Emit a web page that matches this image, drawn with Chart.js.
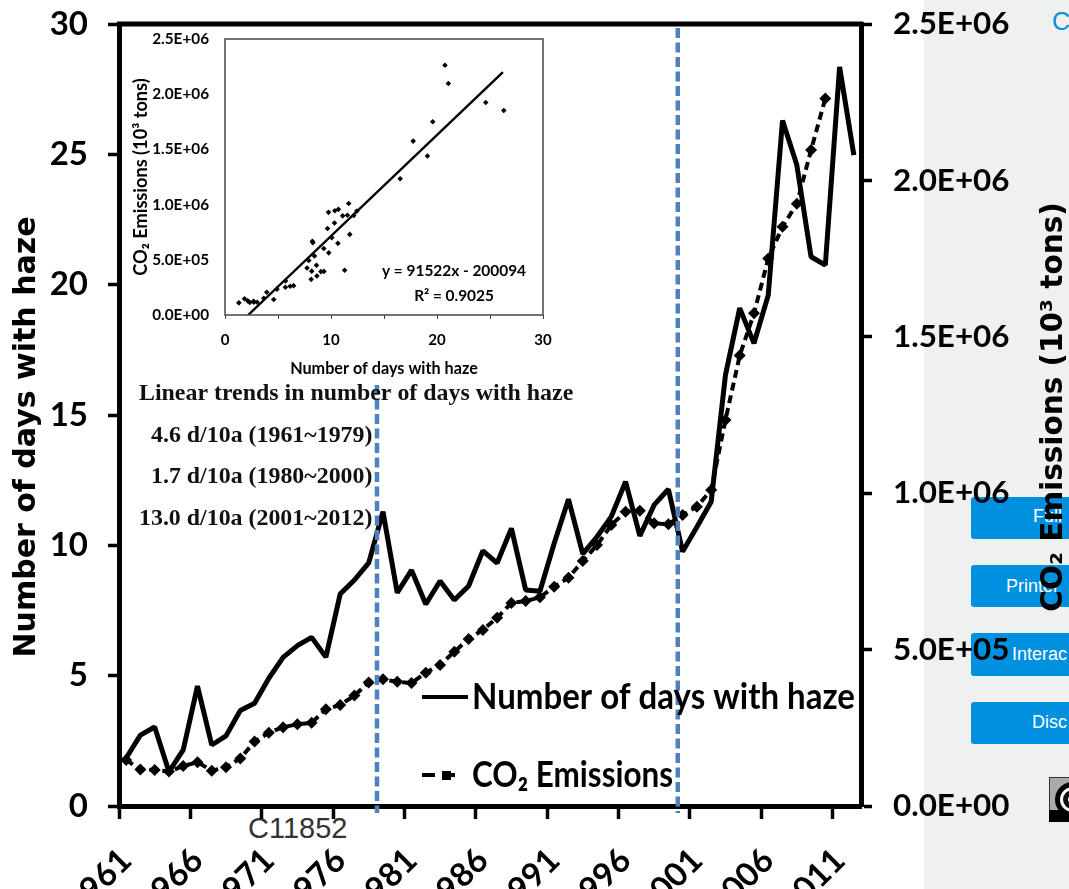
<!DOCTYPE html>
<html><head><meta charset="utf-8">
<script src="https://cdn.jsdelivr.net/npm/chart.js@4"></script>
<style>
html,body{margin:0;padding:0;background:#fff;width:1069px;height:889px;overflow:hidden;position:relative}
.abs{position:absolute}
#side{left:924px;top:0;width:145px;height:889px;background:#eff1f0}
.btn{left:971px;width:200px;background:#0090e0;border-radius:3px;}
.btnt{color:#fff;font:18px "Liberation Sans";white-space:nowrap;line-height:22px}
#c{left:1052px;top:4px;color:#0090e0;font:25px "Liberation Sans";line-height:34px}
#code{left:248px;top:811px;color:#333;font:29px "Liberation Sans";line-height:34px}
canvas{position:absolute;left:0;top:0}
#badge{left:1049px;top:777px;width:30px;height:45px;background:#a8aca6;border:1px solid #333;box-sizing:border-box}
#badgeb{left:1049px;top:810px;width:30px;height:12px;background:#000}
#ring{left:1055px;top:782px;width:35px;height:35px;border-radius:50%;border:5px solid #000;background:#fff;box-sizing:border-box}
#ring2{left:1063px;top:790px;width:19px;height:19px;border-radius:50%;border:5px solid #111;background:#fff;box-sizing:border-box}
</style></head>
<body>
<div id="side" class="abs"></div>
<div id="c" class="abs">C</div>
<div class="abs btn" style="top:497px;height:42px"></div>
<div class="abs btn" style="top:565px;height:42px"></div>
<div class="abs btn" style="top:633px;height:43px"></div>
<div class="abs btn" style="top:702px;height:42px"></div>
<div class="abs btnt" style="left:1033px;top:505px">Full</div>
<div class="abs btnt" style="left:1006px;top:575px">Printer</div>
<div class="abs btnt" style="left:1012px;top:643px">Interac</div>
<div class="abs btnt" style="left:1032px;top:711px">Disc</div>
<div id="badge" class="abs"></div><div id="badgeb" class="abs"></div><div id="ring" class="abs"></div><div id="ring2" class="abs"></div>
<div id="code" class="abs">C11852</div>
<canvas id="main" width="1069" height="889"></canvas>
<canvas id="inset" width="430" height="350" style="left:130px;top:28px"></canvas>
<script>
const years = Array.from({length:52},(_,i)=>String(1961+i));
const hazeDays = [1.84,2.72,3.03,1.31,2.15,4.6,2.34,2.69,3.66,3.94,4.9,5.7,6.15,6.47,5.71,8.13,8.67,9.33,11.29,8.18,9.05,7.74,8.63,7.9,8.44,9.79,9.32,10.65,8.29,8.24,10.08,11.77,9.67,10.33,11.1,12.44,10.36,11.55,12.15,9.76,10.7,11.67,16.53,19.1,17.75,19.6,26.3,24.6,21.07,20.75,28.35,24.97];
const co2Emissions = [147000,117000,115000,110000,128000,140000,113000,124000,152000,206000,234000,252000,261000,266000,309000,323000,353000,395000,405000,397000,393000,426000,451000,493000,534000,563000,602000,649000,655000,667000,701000,730000,783000,834000,898000,941000,944000,904000,901000,930000,957000,1010000,1234000,1440000,1575000,1750000,1852000,1925000,2097000,2262000,null,null];
const breakIndex = [17.58,38.66];
const breakTop = [16.15,29.85];
const breakBottom = -0.27;
const trendTitle = "Linear trends in number of days with haze";
const trendLines = ["4.6 d/10a (1961~1979)","1.7 d/10a (1980~2000)","13.0 d/10a (2001~2012)"];
const hazeLabel = "Number of days with haze";
const co2Label = "CO\u2082 Emissions";
const co2Axis = "CO\u2082 Emissions (10\u00B3 tons)";
const fitX = [2.186,26.22];
const fitY = [0,2200000];
const equation = "y = 91522x - 200094";
const rSquared = "R\u00B2 = 0.9025";

const LATO='Lato', AXISF='"DejaVu Sans"';
const sci = v => { const [m,e]=Number(v).toExponential(1).split('e'); return m+'E+'+e.replace('+','').padStart(2,'0'); };
const noPad = s => { s.paddingTop=0; s.paddingBottom=0; s.paddingLeft=0; s.paddingRight=0; };
const shiftTitle = (dx,dy,flip) => s => { const o=Object.getPrototypeOf(s).drawTitle;
  s.drawTitle=function(){ const c=s.ctx; c.save(); c.translate(dx,dy);
    if(flip){ const cx=s.right-s.options.title.font.size*0.6, cy=(s.top+s.bottom)/2; c.translate(cx,cy); c.rotate(Math.PI); c.translate(-cx,-cy); }
    o.call(s); c.restore(); }; };

const mainOverlay = { id:'mainOverlay', afterDatasetsDraw(ch){
  const {ctx,chartArea:a,scales:{x,y}}=ch;
  ctx.save();
  ctx.strokeStyle='#000'; ctx.lineWidth=5; ctx.beginPath(); ctx.moveTo(a.left-2,a.top); ctx.lineTo(a.right+2,a.top); ctx.stroke();
  ctx.strokeStyle='#4f81bd'; ctx.lineWidth=4.5; ctx.setLineDash([10,4.5]);
  breakIndex.forEach((b,i)=>{ const px=x.getPixelForValue(b); ctx.beginPath(); ctx.moveTo(px,y.getPixelForValue(breakTop[i])); ctx.lineTo(px,y.getPixelForValue(breakBottom)); ctx.stroke(); });
  ctx.setLineDash([]);
  ctx.fillStyle='#111'; ctx.textBaseline='middle'; ctx.textAlign='left';
  ctx.font='bold 23.9px "Liberation Serif"';
  ctx.fillText(trendTitle,139,394);
  ctx.fillText(trendLines[0],151,436);
  ctx.fillText(trendLines[1],151,477);
  ctx.fillText(trendLines[2],139,519);
  ctx.fillStyle='#000'; ctx.strokeStyle='#000';
  ctx.lineWidth=4; ctx.beginPath(); ctx.moveTo(422,697); ctx.lineTo(468,697); ctx.stroke();
  ctx.setLineDash([13,7]); ctx.beginPath(); ctx.moveTo(422,775); ctx.lineTo(462,775); ctx.stroke(); ctx.setLineDash([]);
  ctx.fillRect(442,771,9,9);
  ctx.font='bold 37px '+LATO;
  ctx.fillText(hazeLabel,472,697,383);
  ctx.fillText(co2Label,472,775,201);
  ctx.restore();
}};

new Chart(document.getElementById('main'),{
  type:'line',
  data:{labels:years,datasets:[
    {label:hazeLabel,data:hazeDays,yAxisID:'y',borderColor:'#000',borderWidth:5,pointRadius:0,tension:0,fill:false,borderJoinStyle:'bevel'},
    {label:co2Label,data:co2Emissions,yAxisID:'y2',borderColor:'#000',backgroundColor:'#000',borderWidth:4,borderDash:[8,5],pointStyle:'rectRot',pointRadius:6,pointBorderWidth:0,tension:0,fill:false,spanGaps:false}
  ]},
  options:{
    responsive:false,animation:false,devicePixelRatio:1,
    layout:{padding:{top:24,left:0,right:0,bottom:0}},
    plugins:{legend:{display:false},tooltip:{enabled:false}},
    scales:{
      x:{type:'category',offset:true,
        afterFit:s=>{s.height=83;noPad(s);},
        border:{display:true,color:'#000',width:5},
        grid:{offset:true,drawOnChartArea:false,tickLength:13,tickWidth:3.5,
          tickColor:c=>(c.index%5===0?'#000':'rgba(0,0,0,0)')},
        ticks:{autoSkip:false,minRotation:45,maxRotation:45,padding:22,labelOffset:0,color:'#000',
          font:{family:LATO,weight:'bold',size:33},
          callback(v,i){return i%5===0?this.getLabelForValue(v):'';}}
      },
      y:{position:'left',min:0,max:30,
        afterFit:s=>{s.width=119;noPad(s);},afterUpdate:shiftTitle(9,22),
        border:{display:true,color:'#000',width:5},
        grid:{drawOnChartArea:false,tickLength:11,tickWidth:3.5,tickColor:'#000'},
        ticks:{stepSize:5,padding:20,color:'#000',font:{family:LATO,weight:'bold',size:33}},
        title:{display:true,text:hazeLabel,color:'#000',padding:0,font:{family:AXISF,weight:'bold',size:30}}
      },
      y2:{position:'right',min:0,max:2500000,
        afterFit:s=>{s.width=208;noPad(s);},afterUpdate:shiftTitle(3,-8,true),
        border:{display:true,color:'#000',width:5},
        grid:{drawOnChartArea:false,tickLength:11,tickWidth:3.5,tickColor:'#000'},
        ticks:{stepSize:500000,padding:21,color:'#000',font:{family:LATO,weight:'bold',size:31.4},callback:v=>sci(v)},
        title:{display:true,text:co2Axis,color:'#000',padding:0,font:{family:AXISF,weight:'bold',size:29.5}}
      }
    }
  },
  plugins:[mainOverlay]
});

const insetPoints = hazeDays.map((h,i)=>({x:h,y:co2Emissions[i]})).filter(p=>p.y!==null);
const insetOverlay = { id:'insetOverlay', afterDatasetsDraw(ch){
  const {ctx,chartArea:a}=ch;
  ctx.save();
  ctx.strokeStyle='#444'; ctx.lineWidth=1.5; ctx.strokeRect(a.left,a.top,a.right-a.left,a.bottom-a.top);
  ctx.fillStyle='#000'; ctx.textAlign='center'; ctx.textBaseline='middle'; ctx.font='bold 15.4px '+LATO;
  ctx.fillText(equation,324,243);
  ctx.fillText(rSquared,324,268);
  ctx.restore();
}};
new Chart(document.getElementById('inset'),{
  type:'scatter',
  data:{datasets:[
    {label:'Emissions vs haze',data:insetPoints,backgroundColor:'#000',pointStyle:'rectRot',pointRadius:2.8,pointBorderWidth:0},
    {label:'Linear fit',data:fitX.map((x,i)=>({x,y:fitY[i]})),showLine:true,borderColor:'#000',borderWidth:2.4,pointRadius:0,tension:0}
  ]},
  options:{
    responsive:false,animation:false,devicePixelRatio:1,
    layout:{padding:{top:11,right:17,left:0,bottom:0}},
    plugins:{legend:{display:false},tooltip:{enabled:false}},
    scales:{
      x:{type:'linear',min:0,max:30,
        afterFit:s=>{s.height=63;noPad(s);},
        border:{display:false},
        grid:{drawOnChartArea:false,tickLength:4,tickWidth:1,tickColor:'#444'},
        ticks:{stepSize:5,padding:12,maxRotation:0,color:'#000',font:{family:LATO,weight:'bold',size:15},callback:v=>(v%10===0?String(v):'')},
        title:{display:true,text:hazeLabel,color:'#000',padding:{top:4,bottom:0},font:{family:LATO,weight:'bold',size:16.2}}
      },
      y:{min:0,max:2500000,
        afterFit:s=>{s.width=95;noPad(s);},
        border:{display:false},
        grid:{drawOnChartArea:false,tickLength:0,tickColor:'#444'},
        ticks:{stepSize:500000,padding:16,color:'#000',font:{family:LATO,weight:'bold',size:15.3},callback:v=>sci(v)},
        title:{display:true,text:co2Axis,color:'#000',padding:0,font:{family:LATO,weight:'bold',size:18.2}}
      }
    }
  },
  plugins:[insetOverlay]
});
</script>
</body></html>
